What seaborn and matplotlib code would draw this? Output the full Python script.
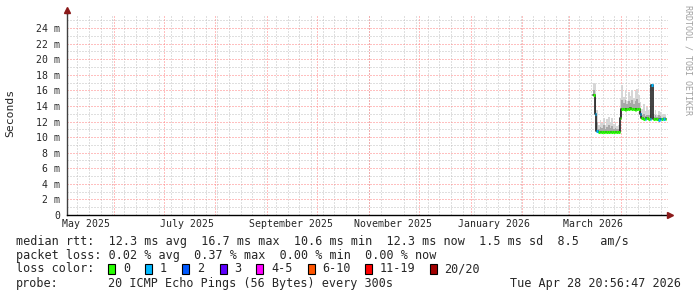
import numpy as np
import pandas as pd
import matplotlib
matplotlib.use("Agg")
import matplotlib.pyplot as plt
import matplotlib.dates as mdates
from matplotlib.ticker import MultipleLocator, FuncFormatter
from matplotlib.patches import Rectangle
import seaborn as sns

# ---------------- data ----------------
start_time = "2026-03-16 05:00"
day_offset = list(range(44))
median_ms = [15.4, 13.0, 10.8,
             10.65, 10.6, 10.6, 10.7, 10.6, 10.6, 10.6, 10.7, 10.6, 10.6, 10.6, 10.6, 10.6,
             12.4, 13.6, 13.6, 13.5, 13.6, 13.6, 13.7, 13.6, 13.6, 13.5, 13.6, 13.6,
             13.0, 12.4, 12.3, 12.3, 12.4, 12.3, 12.3,
             16.7,
             12.3, 12.3, 12.3, 12.2, 12.3, 12.3, 12.3, 12.3]
loss_count = [0, 1, 1,
              0, 0, 0, 0, 0, 0, 0, 0, 0, 0, 0, 0, 0,
              0, 0, 0, 0, 0, 0, 0, 0, 0, 0, 0, 0,
              1, 0, 0, 1, 0, 0, 1,
              1,
              0, 0, 0, 1, 1, 0, 1, 0]
smoke_hi = [16.9, 16.8, 13.5,
            11.6, 12.2, 11.8, 12.5, 11.5, 12.3, 12.6, 11.9, 12.4, 11.7, 12.0, 11.4, 11.6,
            15.0, 16.7, 15.2, 16.0, 14.6, 15.8, 15.3, 16.1, 15.0, 15.9, 16.2, 15.4,
            14.5, 13.6, 14.2, 13.3, 13.9, 13.5, 14.0,
            16.8,
            13.0, 13.5, 12.9, 13.4, 13.2, 12.8, 13.0, 12.9]
smoke_mid = [16.0, 15.0, 12.0,
             11.1, 11.3, 11.2, 11.5, 11.0, 11.3, 11.6, 11.2, 11.4, 11.1, 11.2, 11.0, 11.1,
             13.5, 14.8, 14.4, 14.7, 14.2, 14.6, 14.4, 14.8, 14.3, 14.6, 14.9, 14.4,
             13.6, 12.9, 13.0, 12.7, 12.9, 12.8, 13.0,
             16.7,
             12.6, 12.8, 12.6, 12.8, 12.7, 12.5, 12.6, 12.6]

loss_classes = [0, 1, 2, 3, 5, 10, 19, 20]
loss_labels = ["0", "1", "2", "3", "4-5", "6-10", "11-19", "20/20"]
loss_colors = ["#26ff00", "#00b8ff", "#0059ff", "#5e00ff", "#ff00ff", "#ff5500", "#ff0000", "#a10000"]

x_start = "2025-05-04 19:00"
x_end = "2026-04-30 03:00"

legend_rows = [
    "median rtt:  12.3 ms avg  16.7 ms max  10.6 ms min  12.3 ms now  1.5 ms sd  8.5   am/s",
    "packet loss: 0.02 % avg  0.37 % max  0.00 % min  0.00 % now",
]
probe_text = "20 ICMP Echo Pings (56 Bytes) every 300s"
stamp_text = "Tue Apr 28 20:56:47 2026"

# ---------------- figure ----------------
sns.set_style("white")
plt.rcParams["font.family"] = ["DejaVu Sans Mono"]

W, H = 697, 297
fig = plt.figure(figsize=(W / 100, H / 100), dpi=100)
fig.patch.set_facecolor("white")
ax = fig.add_axes([67 / W, 82 / H, 601 / W, 201 / H])
ax.set_facecolor("white")

base = pd.Timestamp(start_time)
edges = base + pd.to_timedelta(day_offset + [day_offset[-1] + 1], unit="D")
t0 = edges[:-1]
t1 = edges[1:]
med = np.array(median_ms)
loss = np.array(loss_count)

def ext(v):
    return list(v) + [v[-1]]

# smoke
ax.fill_between(edges, ext(median_ms), ext(smoke_hi), step="post",
                color="#d6d6d6", lw=0, zorder=2)
ax.fill_between(edges, ext(median_ms), ext(smoke_mid), step="post",
                color="#a8a8a8", lw=0, zorder=3)

# median thin dark line
df = pd.DataFrame({"t": edges, "median": ext(median_ms)})
sns.lineplot(data=df, x="t", y="median", ax=ax, drawstyle="steps-post",
             color="#202020", lw=1.2, estimator=None, zorder=4)

# colored median segments by loss
lo_prev = -1
for thr, col in zip(loss_classes, loss_colors):
    m = (loss > lo_prev) & (loss <= thr)
    if m.any():
        ax.hlines(med[m], t0[m], t1[m], colors=col, lw=2.2, zorder=5)
    lo_prev = thr

# axes limits
ax.set_xlim(pd.Timestamp(x_start), pd.Timestamp(x_end))
ax.set_ylim(0, 25.8)

# grids (1px dotted, like rrdtool)
grid_gray = "#c0c0c0"
grid_red = "#ff8080"
gkw = dict(lw=0.72, ls=(0, (1, 2)), snap=True)
ax.yaxis.set_major_locator(MultipleLocator(2))
ax.yaxis.set_minor_locator(MultipleLocator(1))
ax.yaxis.set_major_formatter(FuncFormatter(lambda v, p: "0" if v == 0 else f"{int(v)} m"))
ax.grid(which="major", axis="y", color=grid_red, zorder=1, **gkw)
ax.grid(which="minor", axis="y", color=grid_gray, zorder=1, **gkw)

ax.xaxis.set_major_locator(mdates.MonthLocator(bymonth=(1, 3, 5, 7, 9, 11), bymonthday=16))
ax.xaxis.set_major_formatter(mdates.DateFormatter("%B %Y"))
ax.xaxis.set_minor_locator(mdates.WeekdayLocator(byweekday=mdates.SU))
ax.grid(which="minor", axis="x", color=grid_gray, zorder=1, **gkw)
ax.grid(which="major", axis="x", visible=False)
for ms in pd.date_range(x_start, x_end, freq="MS"):
    ax.axvline(ms, color=grid_red, zorder=1.5, **gkw)
ax.set_axisbelow(True)

ax.tick_params(axis="both", which="both", length=0)
ax.tick_params(axis="y", labelsize=7.1, pad=5)
ax.tick_params(axis="x", labelsize=7.1, pad=3)
ax.set_xlabel("")
ax.set_ylabel("")

for s in ["top", "right"]:
    ax.spines[s].set_visible(False)
ax.spines["left"].set_color("#404040")
ax.spines["bottom"].set_color("#000000")
ax.spines["left"].set_linewidth(1.0)
ax.spines["bottom"].set_linewidth(1.0)

# arrows
arrow_col = "#8b1a1a"
ax.plot([0, 0], [1, 1.02], transform=ax.transAxes, color="#404040", lw=1.0, clip_on=False, zorder=6)
ax.plot([0], [1.02], marker="^", ms=4.2, color=arrow_col, transform=ax.transAxes, clip_on=False, zorder=7)
ax.plot([1.004], [0], marker=">", ms=4.2, color=arrow_col, transform=ax.transAxes, clip_on=False, zorder=7)

# y label and watermark
fig.text(10 / W, 1 - 113 / H, "Seconds", rotation=90, ha="center", va="center", fontsize=8.2)
fig.text(688 / W, 1 - 5 / H, "RRDTOOL / TOBI OETIKER", rotation=270, ha="center", va="top",
         fontsize=6.0, color="#a0a0a0")

# legend rows
fs = 8.5
fig.text(16 / W, 1 - 241 / H, legend_rows[0], ha="left", va="center", fontsize=fs)
fig.text(16 / W, 1 - 255 / H, legend_rows[1], ha="left", va="center", fontsize=fs)
fig.text(16 / W, 1 - 269 / H, "loss color:", ha="left", va="center", fontsize=fs)
box_x = [108, 145.3, 182.2, 219.6, 256.4, 307.6, 365.3, 430.2]
lab_x = [123.6, 160, 197.3, 234.2, 271, 321.8, 380, 444.4]
for bx, lx, col, lab in zip(box_x, lab_x, loss_colors, loss_labels):
    fig.patches.append(Rectangle((bx / W, 1 - 274 / H), 7 / W, 10 / H, transform=fig.transFigure,
                                 facecolor=col, edgecolor="black", lw=0.8))
    fig.text(lx / W, 1 - 269 / H, lab, ha="left", va="center", fontsize=fs)
fig.text(16 / W, 1 - 283 / H, "probe:", ha="left", va="center", fontsize=fs)
fig.text(107.6 / W, 1 - 283 / H, probe_text, ha="left", va="center", fontsize=fs)
fig.text(681 / W, 1 - 283 / H, stamp_text, ha="right", va="center", fontsize=fs)

fig.savefig("out.png", dpi=100, facecolor="white")
